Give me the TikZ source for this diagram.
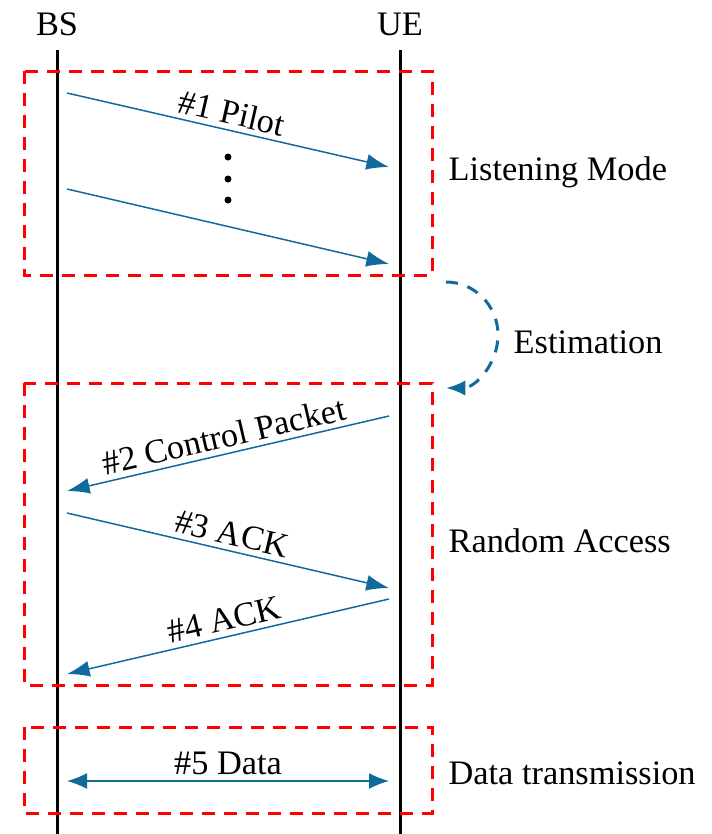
\documentclass[tikz,border=0pt]{standalone}
\usepackage{fontspec}
\setmainfont{Liberation Serif}
\usetikzlibrary{arrows.meta}
\definecolor{msgblue}{RGB}{16,106,156}
\tikzset{
  lifeline/.style={line width=0.9pt, black},
  phasebox/.style={draw=red, line width=0.9pt, dash pattern=on 4pt off 2.6pt},
  msg/.style={msgblue, line width=0.45pt, -{Latex[length=6.8pt,width=4.8pt]}},
  lbl/.style={font=\fontsize{10.3}{12}\selectfont, inner sep=1.5pt, text=black},
  phase/.style={font=\fontsize{10.3}{12}\selectfont, anchor=west, inner sep=0pt},
}
\begin{document}
\begin{tikzpicture}[x=0.3pt, y=-0.3pt]
\useasboundingbox (0,0) rectangle (711,834);

% entities
\node[lbl] (bs) at (57,24) {BS};
\node[lbl] (ue) at (400,24) {UE};
\coordinate (bstop) at (57,50);
\coordinate (bsbot) at (57,834);
\coordinate (uetop) at (400,50);
\coordinate (uebot) at (400,834);
\draw[lifeline] (bstop) -- (bsbot);
\draw[lifeline] (uetop) -- (uebot);

% phase frames
\draw[phasebox] (24,71) rectangle (432,275);
\draw[phasebox] (24,383) rectangle (432,685);
\draw[phasebox] (24,727) rectangle (432,813);

% listening mode
\coordinate (a1s) at (67,93);   \coordinate (a1e) at (389,167);
\coordinate (a2s) at (67,189);  \coordinate (a2e) at (389,264);
\draw[msg] (a1s) -- node[lbl, midway, above, sloped] {\#1 Pilot} (a1e);
\draw[msg] (a2s) -- (a2e);
\foreach \yy in {157,179,200} \fill (228,\yy) circle[radius=1.05pt];
\node[phase] (lm) at (448,172) {Listening Mode};

% estimation
\coordinate (est) at (446,282);
\draw[msgblue, line width=0.9pt, dash pattern=on 3.6pt off 3pt,
      -{Latex[length=5.8pt,width=4.6pt]}]
  (est) arc[start angle=90, end angle=-90, x radius=15.6pt, y radius=15.9pt];
\node[phase] (es) at (513,342) {Estimation};

% random access
\coordinate (a3s) at (389,416); \coordinate (a3e) at (67,491);
\coordinate (a4s) at (67,513);  \coordinate (a4e) at (389,588);
\coordinate (a5s) at (389,599); \coordinate (a5e) at (67,674);
\draw[msg] (a3s) -- node[lbl, midway, above, sloped] {\#2 Control Packet} (a3e);
\draw[msg] (a4s) -- node[lbl, midway, above, sloped] {\#3 ACK} (a4e);
\draw[msg] (a5s) -- node[lbl, midway, above, sloped] {\#4 ACK} (a5e);
\node[phase] (ra) at (448,541) {Random Access};

% data transmission
\coordinate (d1) at (67,781); \coordinate (d2) at (389,781);
\draw[msg, {Latex[length=6pt,width=4.8pt]}-{Latex[length=6pt,width=4.8pt]}]
  (d1) -- node[lbl, midway, above] {\#5 Data} (d2);
\node[phase] (dt) at (448,773) {Data transmission};
\end{tikzpicture}
\end{document}
